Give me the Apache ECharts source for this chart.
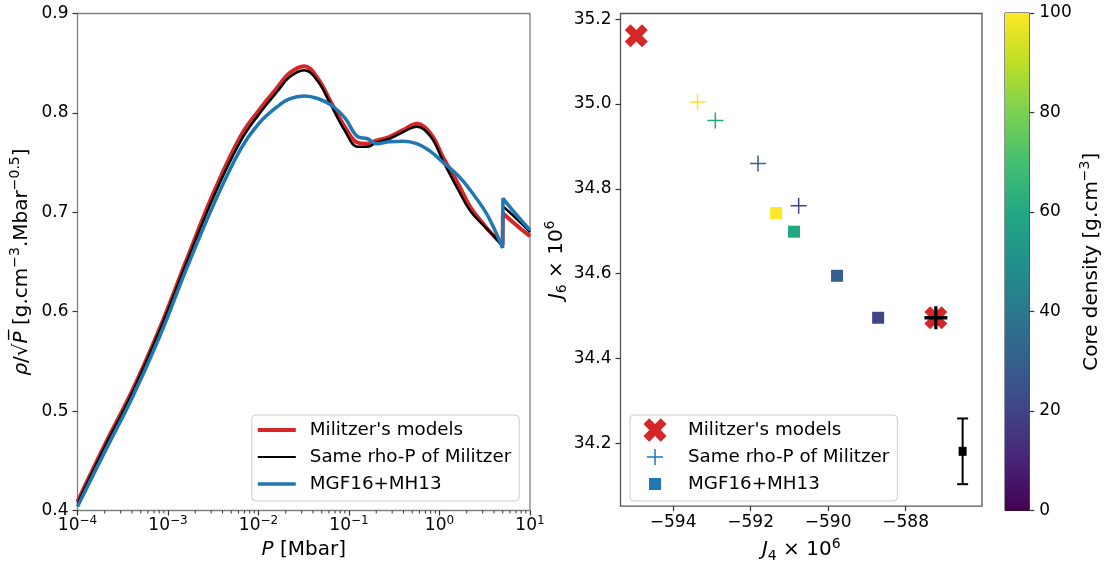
<!DOCTYPE html>
<html>
<head>
<meta charset="utf-8">
<script src="https://cdn.jsdelivr.net/npm/echarts@6/dist/echarts.min.js"></script>
<style>
  html, body { margin: 0; padding: 0; background: #fff; }
  #chart { width: 1109px; height: 568px; }
</style>
</head>
<body>
<div id="chart"></div>
<script>
// ---- left panel: rho/sqrt(P) against P (Mbar) ----
var pressure = [1e-4, 2e-4, 4e-4, 8e-4, 1.6e-3, 3.2e-3, 6.3e-3, 0.01, 0.016, 0.022, 0.032, 0.045, 0.063, 0.09,
    0.125, 0.16, 0.2, 0.28, 0.4, 0.56, 0.8, 1.1, 1.6, 2.2, 3.2, 4, 4.98];
var militzer = [0.409, 0.466, 0.520, 0.582, 0.652, 0.720, 0.776, 0.802, 0.825, 0.840, 0.847, 0.835, 0.811, 0.786,
    0.770, 0.769, 0.772, 0.776, 0.783, 0.789, 0.779, 0.755, 0.729, 0.705, 0.686, 0.676, 0.667];
var sameRhoP = [0.407, 0.464, 0.518, 0.580, 0.649, 0.716, 0.771, 0.798, 0.821, 0.836, 0.843, 0.832, 0.808, 0.782,
    0.766, 0.766, 0.770, 0.774, 0.781, 0.786, 0.776, 0.751, 0.723, 0.701, 0.685, 0.676, 0.666];
var mgf16 = [0.404, 0.459, 0.513, 0.574, 0.643, 0.708, 0.763, 0.789, 0.806, 0.814, 0.817, 0.8145, 0.808, 0.795,
    0.776, 0.774, 0.769, 0.771, 0.7715, 0.769, 0.761, 0.750, 0.737, 0.722, 0.701, 0.684, 0.664];
// part after the jump at ~5 Mbar
var pressureHigh = [4.98, 5.02, 6.3, 8, 10];
var militzerHigh = [0.667, 0.699, 0.691, 0.683, 0.676];
var sameRhoPHigh = [0.666, 0.706, 0.698, 0.689, 0.680];
var mgf16High = [0.664, 0.714, 0.703, 0.692, 0.682];

// ---- right panel: J6 against J4 (x 1e6) ----
var militzerJ4 = [-594.95, -587.22];
var militzerJ6 = [35.161, 34.496];
var sameJ4 = [-593.37, -592.91, -591.81, -590.76];
var sameJ6 = [35.005, 34.961, 34.860, 34.760];
var sameCore = [100, 60, 30, 20];
var mgfJ4 = [-591.34, -590.88, -589.77, -588.71];
var mgfJ6 = [34.743, 34.699, 34.595, 34.496];
var mgfCore = [100, 60, 30, 20];
var crossJ4 = [-587.22];
var crossJ6 = [34.496];
var junoJ4 = -586.53, junoJ6 = 34.181, junoJ6Err = 0.0775;

var j4Ticks = [-594, -592, -590, -588];
var j6Ticks = [34.2, 34.4, 34.6, 34.8, 35.0, 35.2];
var viridis = ['#440154', '#482475', '#414487', '#355f8d', '#2a788e', '#21918c',
    '#22a884', '#44bf70', '#7ad151', '#bddf26', '#fde725'];

var FONT = 'DejaVu Sans';
var minorTicks = [];
for (var k = -4; k < 1; k++) {
    for (var m = 2; m < 10; m++) minorTicks.push(m * Math.pow(10, k));
}

function pairs(xs, ys) { return xs.map(function (x, i) { return [x, ys[i]]; }); }
function triples(xs, ys, zs) { return xs.map(function (x, i) { return [x, ys[i], zs[i]]; }); }
function minus(v) { return String(v).replace('-', '\u2212'); }

// symbols
var xMark = 'path://M0,2.5L2.5,0L5,2.5L7.5,0L10,2.5L7.5,5L10,7.5L7.5,10L5,7.5L2.5,10L0,7.5L2.5,5Z';
var thinPlus = 'path://M7.25,0H8.75V7.25H16V8.75H8.75V16H7.25V8.75H0V7.25H7.25Z';
var thickPlus = 'path://M9.85,0H13.15V9.85H23V13.15H13.15V23H9.85V13.15H0V9.85H9.85Z';
// legend icons in a 47x24 box (38 px handle + gap; tiny corner squares keep the box)
var box = 'M0,0h0.01v0.01h-0.01Z M46.99,23.99h0.01v0.01h-0.01Z ';
var iconRed = 'path://' + box + 'M0,10H38V14H0Z';
var iconBlack = 'path://' + box + 'M0,11.1H38V12.9H0Z';
var iconBlue = 'path://' + box + 'M0,10.25H38V13.75H0Z';
var iconX = 'path://' + box + 'M7.5,6L13.25,0.25L19,6L24.75,0.25L30.5,6L24.75,12L30.5,18L24.75,23.75L19,18L13.25,23.75L7.5,18L13.25,12Z';
var iconPlus = 'path://' + box + 'M18.25,4H19.75V11.25H27V12.75H19.75V20H18.25V12.75H11V11.25H18.25Z';
var iconSquare = 'path://' + box + 'M13,6H25V18H13Z';

var tickFont = { fontFamily: FONT, fontSize: 17, color: '#000' };
function nameRich() {
    return {
        n: { fontFamily: FONT, fontSize: 20, color: '#000', lineHeight: 26 },
        i: { fontFamily: FONT, fontSize: 20, color: '#000', lineHeight: 26, fontStyle: 'italic' },
        s: { fontFamily: FONT, fontSize: 14, color: '#000', lineHeight: 14, verticalAlign: 'top' },
        d: { fontFamily: FONT, fontSize: 14, color: '#000', lineHeight: 16, verticalAlign: 'bottom' }
    };
}
var legendBase = {
    orient: 'vertical',
    itemWidth: 47,
    itemHeight: 24,
    itemGap: 3,
    padding: [3, 8, 5, 6],
    backgroundColor: 'rgba(255,255,255,0.8)',
    borderColor: '#cccccc',
    borderWidth: 1,
    borderRadius: 4,
    itemStyle: { borderWidth: 0 },
    textStyle: { fontFamily: FONT, fontSize: 18.3, color: '#000' },
    selectedMode: false
};

var chart = echarts.init(document.getElementById('chart'));

var option = {
    animation: false,
    backgroundColor: '#fff',
    grid: [
        { left: 77.5, top: 13.5, width: 452.5, height: 497, show: true, borderColor: '#808080', borderWidth: 1.3 },
        { left: 620.5, top: 13.5, width: 361.5, height: 497, show: true, borderColor: '#555', borderWidth: 1.3 },
        { left: 1005, top: 13, width: 24.3, height: 497.5, show: true, borderColor: '#222', borderWidth: 1 }
    ],
    xAxis: [{
        type: 'log', gridIndex: 0, logBase: 10, min: 1e-4, max: 10, splitNumber: 5,
        axisLine: { show: false },
        axisTick: { show: true, length: 5, lineStyle: { color: '#333', width: 1.2 } },
        splitLine: { show: false },
        axisLabel: {
            margin: 4,
            formatter: function (v) {
                var e = Math.round(Math.log10(v));
                return '{b|10}{s|' + minus(e) + '}';
            },
            rich: {
                b: { fontFamily: FONT, fontSize: 17, color: '#000', lineHeight: 22 },
                s: { fontFamily: FONT, fontSize: 12, color: '#000', lineHeight: 12, verticalAlign: 'top' }
            }
        },
        name: '{i|P}{n| [Mbar]}', nameLocation: 'middle', nameGap: 26,
        nameTextStyle: { rich: nameRich() }
    }, {
        type: 'value', gridIndex: 1, min: -595.357, max: -586.03,
        axisLine: { show: false, onZero: false },
        axisTick: { show: true, length: 5, customValues: j4Ticks, lineStyle: { color: '#333', width: 1.2 } },
        splitLine: { show: false },
        axisLabel: Object.assign({ margin: 6, lineHeight: 20, customValues: j4Ticks,
            formatter: function (v) { return minus(v); } }, tickFont),
        name: '{i|J}{d|4}{n| \u00d7 10}{s|6}', nameLocation: 'middle', nameGap: 27,
        nameTextStyle: { rich: nameRich() }
    }, {
        type: 'category', gridIndex: 2, data: [''], show: false
    }],
    yAxis: [{
        type: 'value', gridIndex: 0, min: 0.4, max: 0.9, interval: 0.1,
        axisLine: { show: false },
        axisTick: { show: true, length: 5, lineStyle: { color: '#333', width: 1.2 } },
        splitLine: { show: false },
        axisLabel: Object.assign({ margin: 9, formatter: function (v) { return v.toFixed(1); } }, tickFont),
        name: '{i|\u03c1}{n|/\u221a}{i|P\u0305}{n| [g.cm}{s|\u22123}{n|.Mbar}{s|\u22120.5}{n|]}',
        nameLocation: 'middle', nameGap: 43, nameRotate: 90,
        nameTextStyle: { rich: nameRich() }
    }, {
        type: 'value', gridIndex: 1, min: 34.0518, max: 35.2136,
        axisLine: { show: false, onZero: false },
        axisTick: { show: true, length: 5, customValues: j6Ticks, lineStyle: { color: '#333', width: 1.2 } },
        splitLine: { show: false },
        axisLabel: Object.assign({ margin: 9, customValues: j6Ticks,
            formatter: function (v) { return v.toFixed(1); } }, tickFont),
        name: '{i|J}{d|6}{n| \u00d7 10}{s|6}', nameLocation: 'middle', nameGap: 41, nameRotate: 90,
        nameTextStyle: { rich: nameRich() }
    }, {
        type: 'value', gridIndex: 2, min: 0, max: 100, interval: 20, position: 'right',
        axisLine: { show: false },
        axisTick: { show: true, length: 5, lineStyle: { color: '#333', width: 1.2 } },
        splitLine: { show: false },
        axisLabel: Object.assign({ margin: 10 }, tickFont),
        name: '{n|Core density [g.cm}{s|\u22123}{n|]}', nameLocation: 'middle', nameGap: 49, nameRotate: 90,
        nameTextStyle: { rich: nameRich() }
    }],
    visualMap: [{
        type: 'continuous', show: false, min: 0, max: 100, dimension: 2,
        seriesIndex: [9, 10], inRange: { color: viridis }
    }],
    legend: [
        Object.assign({}, legendBase, {
            left: 251.8, top: 415,
            data: [
                { name: "Militzer's models", icon: iconRed, itemStyle: { color: '#d62728' } },
                { name: 'Same rho-P of Militzer', icon: iconBlack, itemStyle: { color: '#000' } },
                { name: 'MGF16+MH13', icon: iconBlue, itemStyle: { color: '#1f77b4' } }
            ]
        }),
        Object.assign({}, legendBase, {
            left: 630, top: 415,
            data: [
                { name: "Militzer's models", icon: iconX, itemStyle: { color: '#d62728' } },
                { name: 'Same rho-P of Militzer', icon: iconPlus, itemStyle: { color: '#1f77b4' } },
                { name: 'MGF16+MH13', icon: iconSquare, itemStyle: { color: '#1f77b4' } }
            ]
        })
    ],
    series: [
        // 0-2 main curves
        { name: "Militzer's models", type: 'line', xAxisIndex: 0, yAxisIndex: 0, data: pairs(pressure, militzer),
          smooth: 0.4, symbol: 'none', z: 2, lineStyle: { color: '#d62728', width: 4 }, itemStyle: { color: '#d62728' } },
        { name: 'Same rho-P of Militzer', type: 'line', xAxisIndex: 0, yAxisIndex: 0, data: pairs(pressure, sameRhoP),
          smooth: 0.4, symbol: 'none', z: 3, lineStyle: { color: '#000', width: 2.5 }, itemStyle: { color: '#000' } },
        { name: 'MGF16+MH13', type: 'line', xAxisIndex: 0, yAxisIndex: 0, data: pairs(pressure, mgf16),
          smooth: 0.4, symbol: 'none', z: 4, lineStyle: { color: '#1f77b4', width: 3.5 }, itemStyle: { color: '#1f77b4' } },
        // 3-5 tails after the jump
        { name: "Militzer's models", type: 'line', xAxisIndex: 0, yAxisIndex: 0, data: pairs(pressureHigh, militzerHigh),
          symbol: 'none', z: 2, lineStyle: { color: '#d62728', width: 4 }, itemStyle: { color: '#d62728' } },
        { name: 'Same rho-P of Militzer', type: 'line', xAxisIndex: 0, yAxisIndex: 0, data: pairs(pressureHigh, sameRhoPHigh),
          symbol: 'none', z: 3, lineStyle: { color: '#000', width: 2.5 }, itemStyle: { color: '#000' } },
        { name: 'MGF16+MH13', type: 'line', xAxisIndex: 0, yAxisIndex: 0, data: pairs(pressureHigh, mgf16High),
          symbol: 'none', z: 4, lineStyle: { color: '#1f77b4', width: 3.5 }, itemStyle: { color: '#1f77b4' } },
        // 6 minor ticks of the log axis
        { name: 'minor', type: 'custom', xAxisIndex: 0, yAxisIndex: 0, clip: false, silent: true, z: 6,
          data: minorTicks.map(function (v) { return [v, 0.4]; }),
          renderItem: function (params, api) {
              var p = api.coord([api.value(0), 0.4]);
              return { type: 'line', shape: { x1: p[0], y1: p[1], x2: p[0], y2: p[1] + 3 },
                       style: { stroke: '#333', lineWidth: 1 } };
          } },
        // 7 red X
        { name: "Militzer's models", type: 'scatter', xAxisIndex: 1, yAxisIndex: 1, data: pairs(militzerJ4, militzerJ6),
          symbol: xMark, symbolSize: 23, z: 3, itemStyle: { color: '#d62728', opacity: 1 } },
        // 8 black cross
        { name: 'cross', type: 'scatter', xAxisIndex: 1, yAxisIndex: 1, data: pairs(crossJ4, crossJ6),
          symbol: thickPlus, symbolSize: 23, z: 4, itemStyle: { color: '#000', opacity: 1 } },
        // 9 plus markers
        { name: 'Same rho-P of Militzer', type: 'scatter', xAxisIndex: 1, yAxisIndex: 1, data: triples(sameJ4, sameJ6, sameCore),
          symbol: thinPlus, symbolSize: 16, z: 3, itemStyle: { color: '#1f77b4', opacity: 1 } },
        // 10 squares
        { name: 'MGF16+MH13', type: 'scatter', xAxisIndex: 1, yAxisIndex: 1, data: triples(mgfJ4, mgfJ6, mgfCore),
          symbol: 'rect', symbolSize: 12, z: 3, itemStyle: { color: '#1f77b4', opacity: 1 } },
        // 11 Juno value with error bar
        { name: 'juno', type: 'custom', xAxisIndex: 1, yAxisIndex: 1, clip: false, z: 5,
          data: [[junoJ4, junoJ6, junoJ6 - junoJ6Err, junoJ6 + junoJ6Err]],
          renderItem: function (params, api) {
              var c = api.coord([api.value(0), api.value(1)]);
              var lo = api.coord([api.value(0), api.value(2)]);
              var hi = api.coord([api.value(0), api.value(3)]);
              var st = { stroke: '#000', lineWidth: 2 };
              return { type: 'group', children: [
                  { type: 'line', shape: { x1: c[0], y1: lo[1], x2: c[0], y2: hi[1] }, style: st },
                  { type: 'line', shape: { x1: c[0] - 5.5, y1: lo[1], x2: c[0] + 5.5, y2: lo[1] }, style: st },
                  { type: 'line', shape: { x1: c[0] - 5.5, y1: hi[1], x2: c[0] + 5.5, y2: hi[1] }, style: st },
                  { type: 'rect', shape: { x: c[0] - 4, y: c[1] - 4.5, width: 8, height: 9 }, style: { fill: '#000' } }
              ] };
          } },
        // 12 colorbar
        { name: 'colorbar', type: 'bar', xAxisIndex: 2, yAxisIndex: 2, data: [100], barWidth: '100%', silent: true,
          itemStyle: { color: new echarts.graphic.LinearGradient(0, 1, 0, 0,
              viridis.map(function (c, i) { return { offset: i / (viridis.length - 1), color: c }; })) } }
    ]
};

chart.setOption(option);
</script>
</body>
</html>
